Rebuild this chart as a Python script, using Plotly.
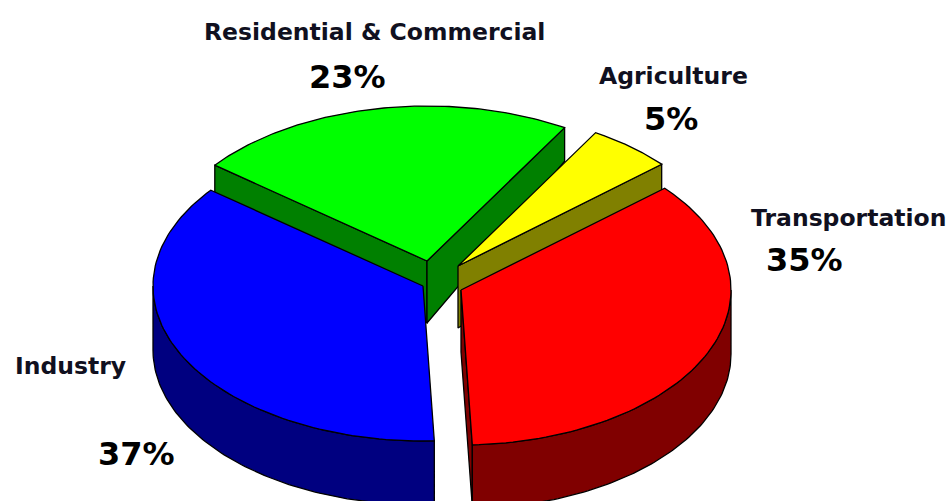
import numpy as np
import plotly.graph_objects as go

# Share of emissions by sector, listed clockwise from the upper right
categories = ["Transportation", "Industry", "Residential & Commercial", "Agriculture"]
shares = [35, 37, 23, 5]
percent_labels = ["35%", "37%", "23%", "5%"]

top_colors = {"Transportation": "#ff0000", "Industry": "#0000ff",
              "Residential & Commercial": "#00ff00", "Agriculture": "#ffff00"}
side_colors = {"Transportation": "#800000", "Industry": "#000080",
               "Residential & Commercial": "#008000", "Agriculture": "#808000"}

# Pie projection, in pixels
RX, RY, DEPTH = 270.0, 155.0, 64.0
START_DEG = 40.0
WARP_DEG = 1.6
centers = {"Transportation": (461, 290), "Industry": (423, 286),
           "Residential & Commercial": (427, 261), "Agriculture": (458, 266)}
label_font = "DejaVu Sans"


def warp(deg):
    # Perspective pulls slice boundaries slightly away from the plain ellipse angle
    deg = np.asarray(deg, dtype=float)
    return deg + WARP_DEG * np.sin(np.radians(deg))


def depth_at(y_offset):
    # The far side of the disc recedes, so its rim looks thinner
    return DEPTH - 2 - 33 * max(0.0, -y_offset / RY)


def arc(cx, cy, a0, a1, n=90):
    t = np.radians(np.linspace(warp(a0), warp(a1), n))
    return cx + RX * np.cos(t), cy - RY * np.sin(t)


def add_poly(fig, xs, ys, color):
    xs = list(xs) + [xs[0]]
    ys = list(ys) + [ys[0]]
    fig.add_trace(go.Scatter(x=xs, y=ys, mode="lines", fill="toself", fillcolor=color,
                             line=dict(color="#000000", width=1.3), hoverinfo="skip",
                             showlegend=False))


# Slice angles, walking clockwise from the start angle
spans = {}
angle = START_DEG
for name, share in zip(categories, shares):
    sweep = share * 3.6
    spans[name] = (angle - sweep, angle)
    angle -= sweep
# Wrap slices so that every slice is expressed in plain ascending degrees
spans = {k: (a0 % 360, (a0 % 360) + (a1 - a0)) for k, (a0, a1) in spans.items()}

fig = go.Figure()


def draw_cut_face(name, deg):
    cx, cy = centers[name]
    t = np.radians(warp(deg))
    ex = cx + RX * np.cos(t)
    ey = cy - RY * np.sin(t)
    add_poly(fig, [cx, ex, ex, cx],
             [cy, ey, ey + depth_at(ey - cy), cy + depth_at(0)], side_colors[name])


def draw_rim(name, a0, a1):
    cx, cy = centers[name]
    xs, ys = arc(cx, cy, a0, a1)
    lower = ys + DEPTH
    add_poly(fig, np.r_[xs, xs[::-1]], np.r_[ys, lower[::-1]], side_colors[name])


def draw_top(name):
    cx, cy = centers[name]
    a0, a1 = spans[name]
    xs, ys = arc(cx, cy, a0, a1)
    add_poly(fig, np.r_[cx, xs], np.r_[cy, ys], top_colors[name])


# Painter's order, far slices first
green, yellow, red, blue = ("Residential & Commercial", "Agriculture",
                            "Transportation", "Industry")
draw_cut_face(green, spans[green][1])
draw_cut_face(green, spans[green][0])
draw_top(green)
draw_cut_face(yellow, spans[yellow][0])
draw_top(yellow)
draw_cut_face(red, spans[red][0])
draw_rim(red, spans[red][0], 360)
draw_top(red)
draw_rim(blue, 180, spans[blue][1])
draw_top(blue)

# Sector names and their percentages
name_pos = {"Residential & Commercial": (374, 32), "Agriculture": (673, 76),
            "Transportation": (848, 218), "Industry": (70, 366)}
pct_pos = {"Residential & Commercial": (347, 77), "Agriculture": (671, 119),
           "Transportation": (804, 260), "Industry": (136, 454)}
for name, pct in zip(categories, percent_labels):
    fig.add_annotation(x=name_pos[name][0], y=name_pos[name][1], text=f"<b>{name}</b>",
                       showarrow=False, font=dict(family=label_font, size=23.5, color="#101020"))
    fig.add_annotation(x=pct_pos[name][0], y=pct_pos[name][1], text=f"<b>{pct}</b>",
                       showarrow=False, font=dict(family=label_font, size=32, color="#000000"))

fig.update_xaxes(range=[0, 949], visible=False, fixedrange=True)
fig.update_yaxes(range=[501, 0], visible=False, fixedrange=True)
fig.update_layout(width=949, height=501, margin=dict(l=0, r=0, t=0, b=0),
                  paper_bgcolor="white", plot_bgcolor="white", showlegend=False)
fig.write_html("out.html", config={"displayModeBar": False})
